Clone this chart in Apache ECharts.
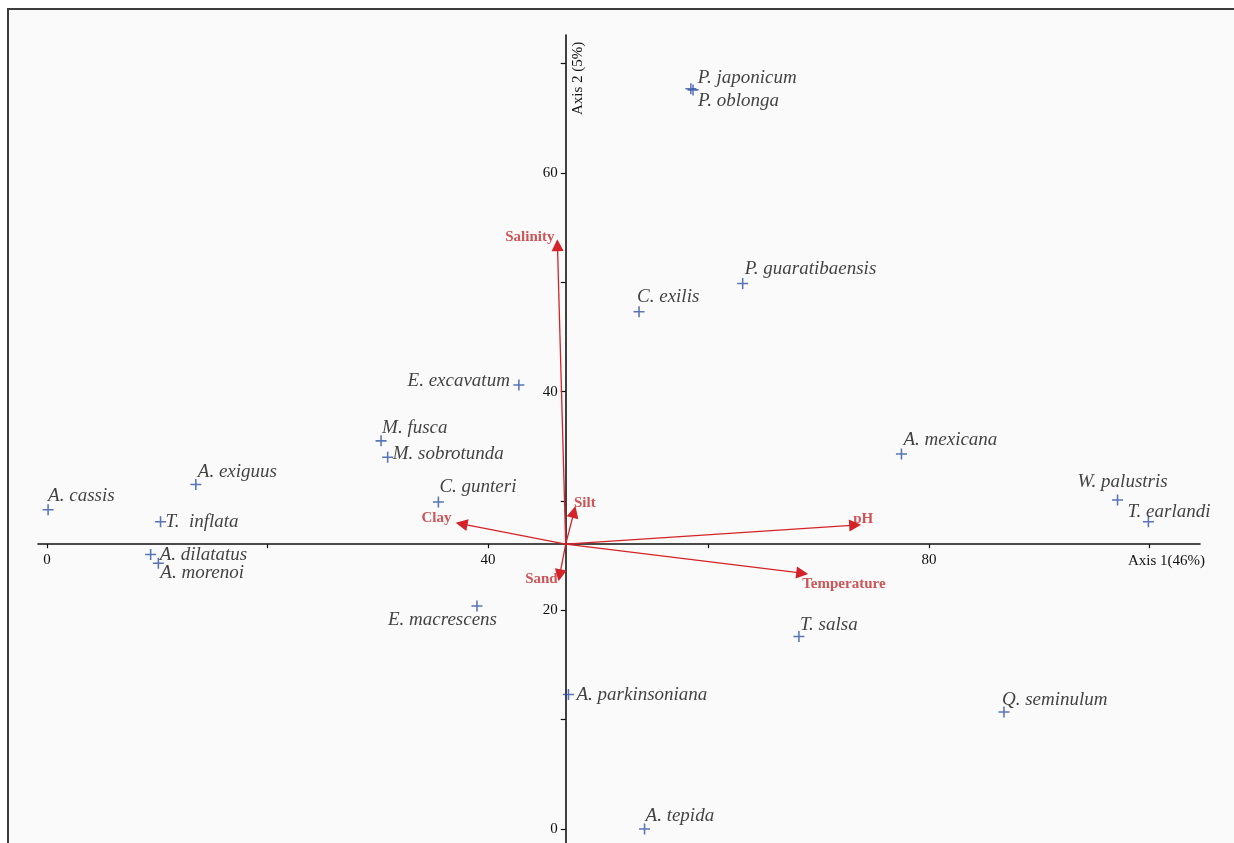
<!DOCTYPE html>
<html>
<head>
<meta charset="utf-8">
<script src="https://cdn.jsdelivr.net/npm/echarts@6/dist/echarts.min.js"></script>
<style>
  html, body { margin: 0; padding: 0; background: #ffffff; overflow: hidden; }
  #chart {
    position: absolute; left: 7px; top: 8px;
    width: 1225px; height: 833px;
    border-left: 2px solid #3c3c3c; border-top: 2px solid #3c3c3c;
    background: #fafafa;
  }
</style>
</head>
<body>
<div id="chart"></div>
<script>
// species scores (axis 1, axis 2)
let speciesNames = ["A. cassis", "A. exiguus", "T.  inflata", "A. dilatatus", "A. morenoi",
    "M. fusca", "M. sobrotunda", "E. excavatum", "C. gunteri", "E. macrescens",
    "A. parkinsoniana", "A. tepida", "C. exilis", "P. guaratibaensis", "P. japonicum",
    "P. oblonga", "A. mexicana", "W. palustris", "T. earlandi", "T. salsa", "Q. seminulum"];
let speciesX = [0.1, 13.5, 10.3, 9.4, 10.1, 30.3, 30.9, 42.8, 35.5, 39.0,
    47.3, 54.2, 53.7, 63.1, 58.4, 58.6, 77.5, 97.1, 99.9, 68.2, 86.8];
let speciesY = [29.2, 31.5, 28.1, 25.1, 24.3, 35.5, 34.0, 40.6, 29.9, 20.4,
    12.3, 0.0, 47.3, 49.9, 67.7, 67.6, 34.3, 30.1, 28.1, 17.6, 10.7];

// environmental variables (arrow tips)
let envNames = ["Salinity", "Silt", "Clay", "Sand", "pH", "Temperature"];
let envX = [46.3, 47.8, 37.6, 46.5, 73.3, 68.5];
let envY = [53.4, 29.0, 27.9, 23.2, 27.8, 23.4];

// centroid where the axes cross
let originX = 47.05;
let originY = 26.05;

let xTicks = [0, 20, 40, 60, 80, 100];
let xTickLabels = [0, 40, 80];
let yTicks = [0, 10, 20, 30, 40, 50, 60, 70];
let yTickLabels = [0, 20, 40, 60];

// label placement: [align, dx, dy]
let speciesLabelPos = {
    "A. cassis": ["left", 0, -14],
    "A. exiguus": ["left", 2, -13],
    "T.  inflata": ["left", 5, 0],
    "A. dilatatus": ["left", 9, 0],
    "A. morenoi": ["left", 2, 10],
    "M. fusca": ["left", 1, -13],
    "M. sobrotunda": ["left", 5, -3],
    "E. excavatum": ["right", -9, -4],
    "C. gunteri": ["left", 1, -15],
    "E. macrescens": ["right", 20, 14],
    "A. parkinsoniana": ["left", 8, 0],
    "A. tepida": ["left", 1, -13],
    "C. exilis": ["left", -2, -15],
    "P. guaratibaensis": ["left", 2, -14],
    "P. japonicum": ["left", 7, -11],
    "P. oblonga": ["left", 5, 11],
    "A. mexicana": ["left", 2, -14],
    "W. palustris": ["left", -40, -18],
    "T. earlandi": ["left", -21, -10],
    "T. salsa": ["left", 1, -12],
    "Q. seminulum": ["left", -2, -12]
};
let envLabelPos = {
    "Salinity": ["right", -3, -8],
    "Silt": ["left", 0, -9],
    "Clay": ["right", -10, -6],
    "Sand": ["right", -2, 4],
    "pH": ["left", -2, -6],
    "Temperature": ["left", 0, 11]
};

const XMIN = -0.816, XMAX = 104.58;
const YMIN = -1.28, YMAX = 72.62;
const serif = '"Liberation Serif", "DejaVu Serif", serif';
const plusSymbol = 'path://M0,4.3H10V5.7H0ZM4.3,0H5.7V10H4.3Z';

let speciesData = [];
for (let i = 0; i < speciesNames.length; i++) {
    let p = speciesLabelPos[speciesNames[i]];
    speciesData.push({
        name: speciesNames[i],
        value: [speciesX[i], speciesY[i]],
        label: { align: p[0], offset: [p[1], p[2]] }
    });
}

let arrowData = [];
let envTipData = [];
for (let i = 0; i < envNames.length; i++) {
    arrowData.push({ coords: [[originX, originY], [envX[i], envY[i]]] });
    let p = envLabelPos[envNames[i]];
    envTipData.push({
        name: envNames[i],
        value: [envX[i], envY[i]],
        label: { align: p[0], offset: [p[1], p[2]] }
    });
}

let chart = echarts.init(document.getElementById('chart'));

function buildOption(xOffset, yOffset) {
    return {
        animation: false,
        backgroundColor: '#fafafa',
        grid: { left: 29, right: 34, top: 25, bottom: 0, outerBoundsMode: 'none' },
        xAxis: {
            type: 'value', min: XMIN, max: XMAX, offset: xOffset,
            splitLine: { show: false },
            axisLine: { onZero: false, lineStyle: { color: '#111', width: 1.6 } },
            axisTick: { customValues: xTicks, length: 4, lineStyle: { color: '#111', width: 1.2 } },
            axisLabel: { customValues: xTickLabels, margin: 8, color: '#111', fontFamily: serif, fontSize: 15 },
            name: 'Axis 1(46%)', nameLocation: 'end', nameGap: 5,
            nameTextStyle: { align: 'right', verticalAlign: 'top', padding: [9, 0, 0, 0], color: '#111', fontFamily: serif, fontSize: 15 }
        },
        yAxis: {
            type: 'value', min: YMIN, max: YMAX, offset: yOffset,
            splitLine: { show: false },
            axisLine: { onZero: false, lineStyle: { color: '#111', width: 1.6 } },
            axisTick: { customValues: yTicks, length: 5, lineStyle: { color: '#111', width: 1.2 } },
            axisLabel: { customValues: yTickLabels, margin: 8, color: '#111', fontFamily: serif, fontSize: 15 },
            name: 'Axis 2 (5%)', nameLocation: 'end', nameGap: -80, nameRotate: 90,
            nameTextStyle: { align: 'left', verticalAlign: 'top', padding: [5, 0, 0, 0], color: '#111', fontFamily: serif, fontSize: 15 }
        },
        series: [
            {
                type: 'lines',
                coordinateSystem: 'cartesian2d',
                data: arrowData,
                symbol: ['none', 'triangle'],
                symbolSize: [8, 12],
                lineStyle: { color: '#d42328', width: 1.3, opacity: 1 },
                z: 3
            },
            {
                type: 'scatter',
                data: envTipData,
                symbolSize: 1,
                itemStyle: { color: 'transparent' },
                label: {
                    show: true, position: 'inside', verticalAlign: 'middle',
                    formatter: '{b}', color: '#c22a2e', fontFamily: serif, fontSize: 15, fontWeight: 'bold'
                },
                z: 4
            },
            {
                type: 'scatter',
                data: speciesData,
                symbol: plusSymbol,
                symbolSize: 11,
                itemStyle: { color: '#2f52a6' },
                label: {
                    show: true, position: 'inside', verticalAlign: 'middle',
                    formatter: '{b}', color: '#111', fontFamily: serif, fontSize: 19, fontStyle: 'italic'
                },
                z: 5
            }
        ]
    };
}

chart.setOption(buildOption(0, 0));
// move the axis lines so they cross at the centroid
let cross = chart.convertToPixel({ gridIndex: 0 }, [originX, originY]);
let gridBottom = chart.getHeight();
let gridLeft = 29;
chart.setOption(buildOption(-(gridBottom - cross[1]), -(cross[0] - gridLeft)));
</script>
</body>
</html>
